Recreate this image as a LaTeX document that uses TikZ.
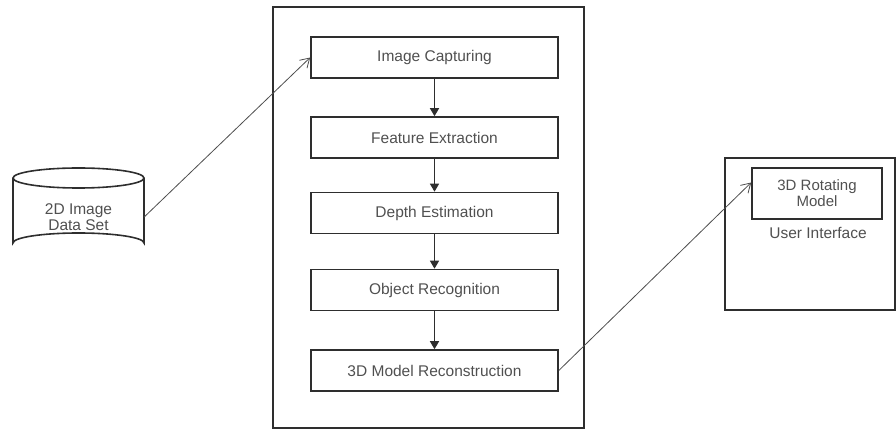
\documentclass[tikz,border=0pt]{standalone}
\usepackage{fontspec}
\setmainfont{Liberation Sans}
\usetikzlibrary{arrows.meta}
\definecolor{ln}{HTML}{2E2E2E}
\definecolor{tx}{HTML}{505050}
\begin{document}
\begin{tikzpicture}[x=1pt,y=-1pt,
  box/.style={draw=ln,line width=1.6pt,minimum width=247pt,minimum height=41pt,inner sep=0pt,text=tx,font=\fontsize{15.5}{17}\selectfont},
  flow/.style={draw=ln,line width=1.4pt,-{Triangle[length=8pt,width=9pt]}},
  link/.style={draw=ln!85,line width=0.8pt,-{Straight Barb[length=9pt,width=11pt,line width=0.8pt]}},
  lbl/.style={text=tx,font=\fontsize{15.5}{16}\selectfont,align=center,inner sep=0pt}]
\useasboundingbox (0,0) rectangle (896,430);
% outer container
\draw[ln,line width=1.6pt] (273,7) rectangle (584,428);
% process boxes
\node[box] (cap) at (434.5,57.5) {Image Capturing};
\node[box] (fea) at (434.5,137.5) {Feature Extraction};
\node[box] (dep) at (434.5,213) {Depth Estimation};
\node[box] (obj) at (434.5,290) {Object Recognition};
\node[box] (rec) at (434.5,370.5) {3D Model Reconstruction};
\draw[flow] (cap) -- (fea);
\draw[flow] (fea) -- (dep);
\draw[flow] (dep) -- (obj);
\draw[flow] (obj) -- (rec);
% cylinder
\draw[ln,line width=1.6pt] (13,178) -- (13,243) arc[start angle=180,end angle=360,x radius=65.5,y radius=10] -- (144,178);
\draw[ln,line width=1.6pt] (78.5,178) ellipse[x radius=65.5,y radius=10];
\node[lbl,minimum width=131pt,minimum height=76pt] (db) at (78.5,217) {2D Image\\Data Set};
% user interface
\draw[ln,line width=1.6pt] (725,158) rectangle (895,310);
\node[box,minimum width=130pt,minimum height=51pt,align=center,font=\fontsize{15}{16}\selectfont] (rot) at (817,193.5) {3D Rotating\\Model};
\node[lbl,anchor=north] (ui) at (818,227) {User Interface};
% links
\draw[link] (db.east) -- (cap.west);
\draw[link] (rec.east) -- ([yshift=11pt]rot.west);
\end{tikzpicture}
\end{document}
